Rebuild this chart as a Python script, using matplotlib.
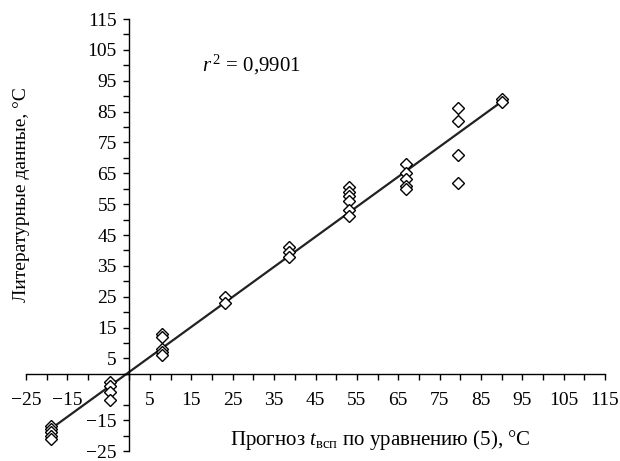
import numpy as np
import matplotlib
matplotlib.use("Agg")
import matplotlib.pyplot as plt
from matplotlib.ticker import FixedLocator, FixedFormatter

plt.rcParams['font.family'] = ['Liberation Serif', 'DejaVu Serif']
plt.rcParams['mathtext.fontset'] = 'custom'
plt.rcParams['mathtext.rm'] = 'Liberation Serif'
plt.rcParams['mathtext.it'] = 'Liberation Serif:italic'

# predicted flash point (x) and literature values (y)
pred = [-19] * 5 + [-4.7] * 4 + [8] * 5 + [23] * 2 + [38.5] * 3 + [53] * 6 \
    + [67] * 5 + [79.5] * 4 + [90] * 2
lit = [-17, -18, -19, -20, -21,
       -2.5, -4, -6, -8.5,
       13, 12, 8, 7, 6,
       25, 23,
       41, 39.5, 38,
       60.5, 59, 57.5, 56, 53, 51,
       68, 65, 63, 61, 60,
       86, 82, 71, 62,
       89, 88]
r2_text = r"$r^{\,2}$ = 0,9901"
tick_vals = [-25, -15, 5, 15, 25, 35, 45, 55, 65, 75, 85, 95, 105, 115]
tick_labels = ["\u221225", "\u221215", "5", "15", "25", "35", "45", "55",
               "65", "75", "85", "95", "105", "115"]

x = np.array(pred)
y = np.array(lit)
k, b = np.polyfit(x, y, 1)

fig = plt.figure(figsize=(6.2, 4.61), dpi=100)
ax = fig.add_axes([26 / 620, 10 / 461, 579 / 620, 432 / 461])

xl = np.array([x.min(), x.max()])
ax.plot(xl, k * xl + b, color='#222222', lw=1.6, zorder=2)
ax.plot(x, y, 'D', ms=6.5, mfc='white', mec='black', mew=1.0, zorder=3)

ax.set_xlim(-25, 115)
ax.set_ylim(-25, 115)
ax.spines['left'].set_position(('data', 0))
ax.spines['bottom'].set_position(('data', 0))
ax.spines['right'].set_visible(False)
ax.spines['top'].set_visible(False)
for sp in ax.spines.values():
    sp.set_linewidth(1.0)

for axis in (ax.xaxis, ax.yaxis):
    axis.set_major_locator(FixedLocator(tick_vals))
    axis.set_major_formatter(FixedFormatter(tick_labels))
    axis.set_minor_locator(FixedLocator(np.arange(-20, 115, 10)))
ax.tick_params(which='both', direction='out', length=4, width=1.0)
ax.tick_params(axis='x', labelsize=14, pad=9)
ax.tick_params(axis='y', labelsize=14, pad=5)

ax.text(17.6, 100, r2_text, fontsize=15, va='center', ha='left')

fig.text(380 / 620, 1 - 440 / 461,
         "Прогноз $t_{\\mathrm{всп}}$ по уравнению (5), °C",
         fontsize=15, ha='center', va='center')
fig.text(22 / 620, 1 - 195 / 461, "Литературные данные, °C",
         fontsize=14, ha='center', va='center', rotation=90)

fig.savefig("out.png", dpi=100)
